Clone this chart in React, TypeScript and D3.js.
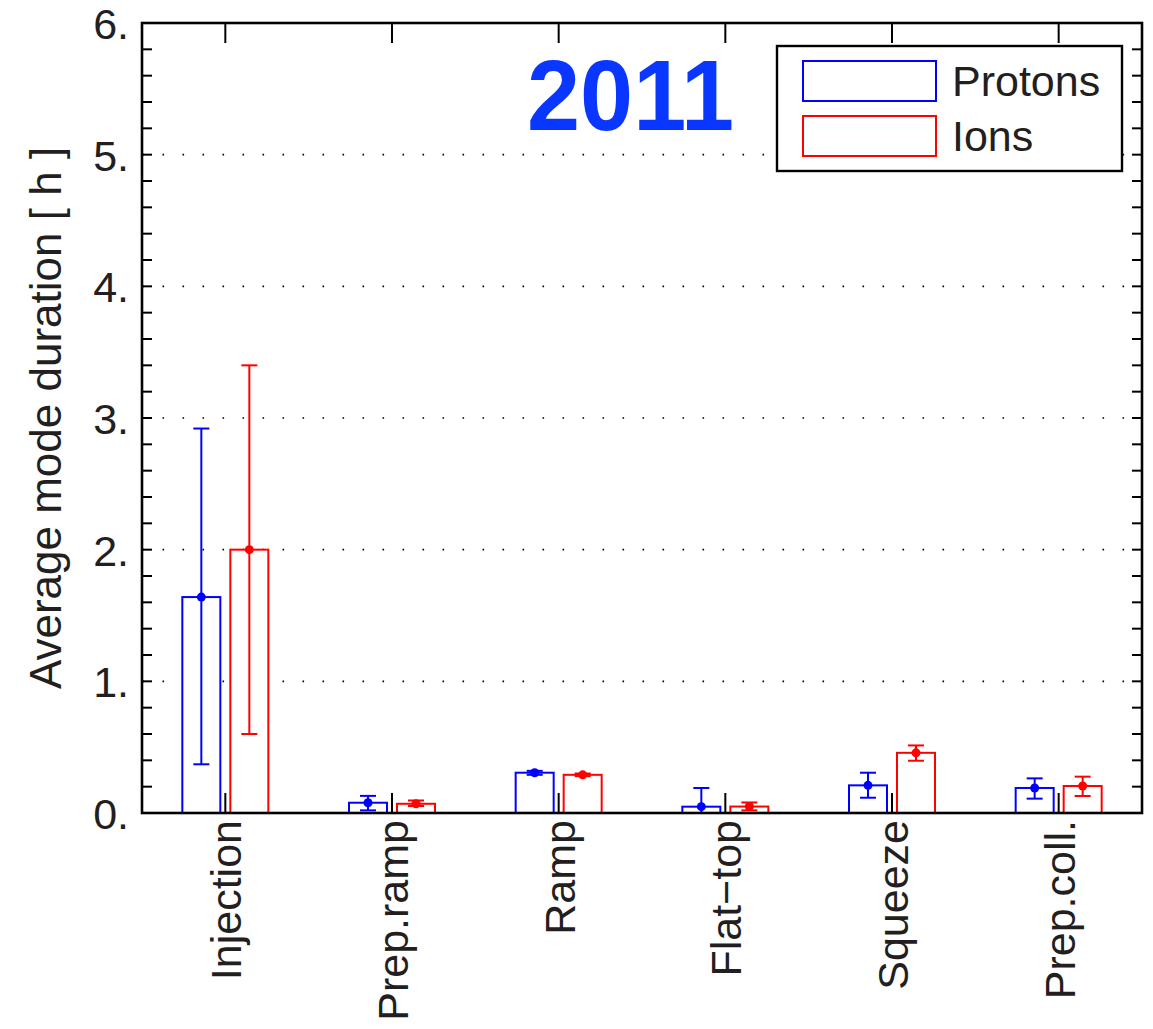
import React from "react";
import * as d3 from "d3";

const categories = ["Injection", "Prep.ramp", "Ramp", "Flat\u2212top", "Squeeze", "Prep.coll."];
const protonValues = [1.64, 0.078, 0.306, 0.048, 0.21, 0.19];
const protonLow = [0.37, 0.02, 0.29, 0.0, 0.116, 0.109];
const protonHigh = [2.92, 0.13, 0.32, 0.19, 0.306, 0.263];
const ionValues = [2.0, 0.07, 0.29, 0.049, 0.457, 0.205];
const ionLow = [0.6, 0.053, 0.28, 0.02, 0.397, 0.129];
const ionHigh = [3.4, 0.095, 0.3, 0.08, 0.513, 0.276];
const yTicks = [0, 1, 2, 3, 4, 5, 6];
const yTickLabels = ["0.", "1.", "2.", "3.", "4.", "5.", "6."];
const seriesNames = ["Protons", "Ions"];

const W = 1153;
const H = 1029;
const left = 142;
const right = 1142;
const top = 23;
const bottom = 813;
const FONT = "'Liberation Sans', Arial, Helvetica, sans-serif";
const TXT = "#231f20";

export default function App() {
  const x = d3.scaleBand<string>().domain(categories).range([left, right]);
  const y = d3.scaleLinear().domain([0, 6]).range([bottom, top]);
  const minor = d3.range(0, 6.0001, 0.2);
  const grid = [1, 2, 3, 4, 5];
  const barW = 38;
  const offset = 24;
  const cap = 8;

  const series = [
    { name: seriesNames[0], color: "#0000ff", vals: protonValues, lo: protonLow, hi: protonHigh, dx: -offset },
    { name: seriesNames[1], color: "#ff0000", vals: ionValues, lo: ionLow, hi: ionHigh, dx: offset },
  ];

  const cx = (c: string) => (x(c) as number) + x.bandwidth() / 2;

  return (
    <svg width={W} height={H} style={{ display: "block", position: "absolute", left: 0, top: 0, background: "#fff" }}>
      <rect x={0} y={0} width={W} height={H} fill="#fff" />
      {grid.map((g) => (
        <line key={"g" + g} x1={left} x2={right} y1={y(g)} y2={y(g)} stroke="#000" strokeWidth={1.6}
          strokeDasharray="1.6 18.4" strokeDashoffset={-0.5} />
      ))}
      {series.map((s) =>
        categories.map((c, i) => {
          const bx = cx(c) + s.dx;
          const lo = Math.max(0, s.lo[i]);
          return (
            <g key={s.name + c}>
              <rect x={bx - barW / 2} y={y(s.vals[i])} width={barW} height={y(0) - y(s.vals[i])}
                fill="#fff" stroke={s.color} strokeWidth={2} />
              <line x1={bx} x2={bx} y1={y(lo)} y2={y(s.hi[i])} stroke={s.color} strokeWidth={2} />
              <line x1={bx - cap} x2={bx + cap} y1={y(s.hi[i])} y2={y(s.hi[i])} stroke={s.color} strokeWidth={2} />
              {s.lo[i] > 0 && (
                <line x1={bx - cap} x2={bx + cap} y1={y(s.lo[i])} y2={y(s.lo[i])} stroke={s.color} strokeWidth={2} />
              )}
              <circle cx={bx} cy={y(s.vals[i])} r={4.5} fill={s.color} />
            </g>
          );
        })
      )}
      {minor.map((t, i) => (
        <g key={"m" + i}>
          <line x1={left} x2={left + 10} y1={y(t)} y2={y(t)} stroke="#000" strokeWidth={2} />
          <line x1={right - 10} x2={right} y1={y(t)} y2={y(t)} stroke="#000" strokeWidth={2} />
        </g>
      ))}
      {categories.map((c) => (
        <g key={"xt" + c}>
          <line x1={cx(c)} x2={cx(c)} y1={bottom} y2={bottom - 20} stroke="#000" strokeWidth={2} />
          <line x1={cx(c)} x2={cx(c)} y1={top} y2={top + 20} stroke="#000" strokeWidth={2} />
        </g>
      ))}
      <rect x={left} y={top} width={right - left} height={bottom - top} fill="none" stroke="#000" strokeWidth={2.6} />
      {yTicks.map((t, i) => (
        <text key={"yl" + t} x={129} y={y(t) + 16} textAnchor="end" fontFamily={FONT} fontSize={43} fill={TXT}>
          {yTickLabels[i]}
        </text>
      ))}
      {categories.map((c) => (
        <text key={"xl" + c} transform={`translate(${cx(c) + 16},${820}) rotate(-90)`} textAnchor="end"
          fontFamily={FONT} fontSize={43} fill={TXT}>
          {c}
        </text>
      ))}
      <text transform={`translate(61,${(top + bottom) / 2}) rotate(-90)`} textAnchor="middle"
        fontFamily={FONT} fontSize={44} fill={TXT}>
        Average mode duration [ h ]
      </text>
      <text x={527} y={130} fontFamily={FONT} fontSize={100} fontWeight="bold" fill="#0a37ff"
        textLength={207} lengthAdjust="spacingAndGlyphs">2011</text>
      <rect x={777} y={46} width={345} height={125} fill="#fff" stroke="#000" strokeWidth={2.4} />
      {series.map((s, i) => (
        <g key={"lg" + s.name}>
          <rect x={803} y={61 + i * 55} width={133} height={40} fill="#fff" stroke={s.color} strokeWidth={2} />
          <text x={952} y={96 + i * 55} fontFamily={FONT} fontSize={43} fill={TXT}>{s.name}</text>
        </g>
      ))}
    </svg>
  );
}
